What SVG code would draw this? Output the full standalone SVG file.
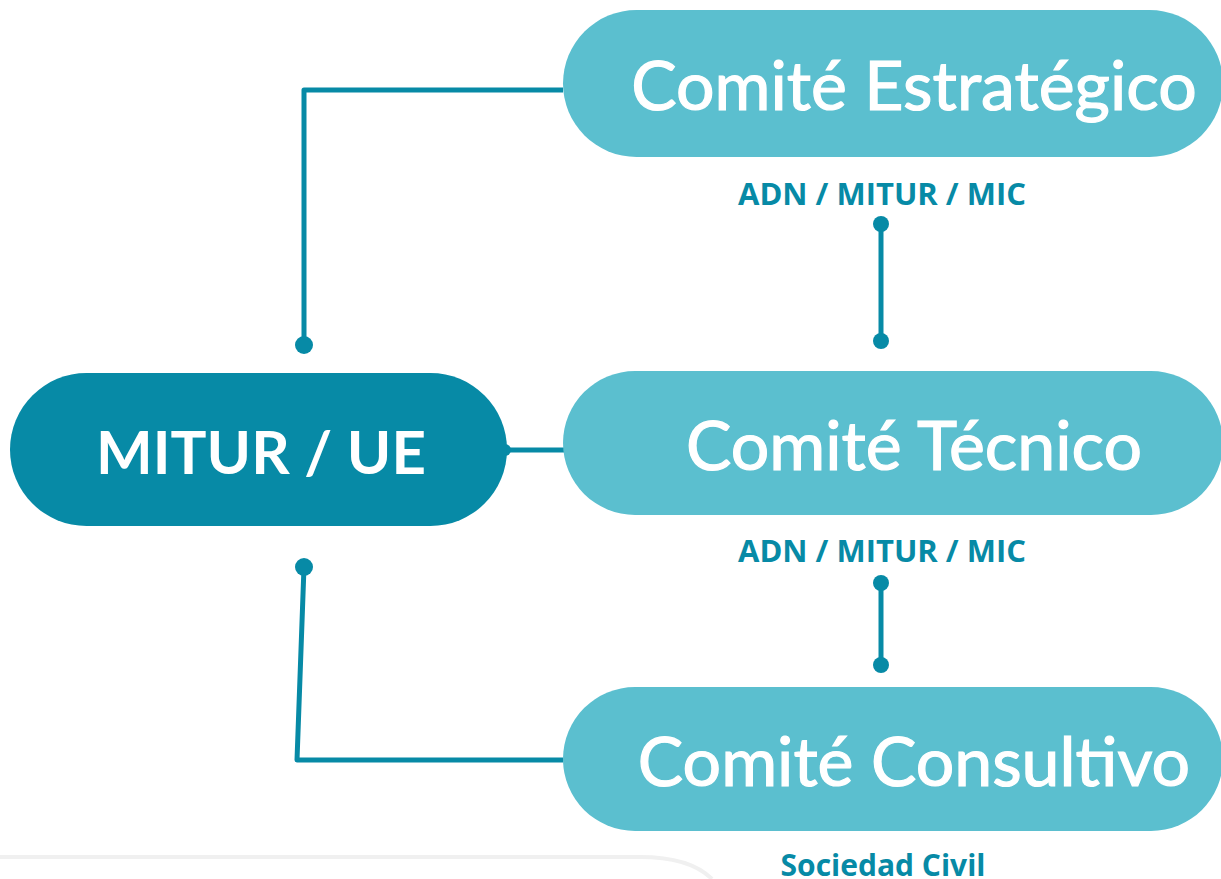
<svg xmlns="http://www.w3.org/2000/svg" width="1221" height="879" viewBox="0 0 1221 879">
<style>
.pill{fill:#5bbfcf}
.main{fill:#078aa6}
.t{font-family:Lato,"Open Sans",sans-serif;fill:#fff;text-anchor:middle}
.m{stroke:#fff;stroke-width:1.2}
.lbl{font-family:"Open Sans",sans-serif;font-weight:700;fill:#078aa6;text-anchor:middle}
.ln{stroke:#078aa6;stroke-width:5;fill:none;stroke-linejoin:round}
.dot{fill:#078aa6}
</style>
<rect width="1221" height="879" fill="#fff"/>
<path d="M0 857 H640 Q690 857 712 879" fill="none" stroke="#f0f0f0" stroke-width="4"/>
<g id="connectors">
<path class="ln" d="M563 90 H304 V345"/>
<circle class="dot" cx="304" cy="345" r="9"/>
<path class="ln" d="M304 567 L297 760 H563"/>
<circle class="dot" cx="304" cy="567" r="9"/>
<path class="ln" d="M505 450 H565"/>
<circle class="dot" cx="505" cy="450" r="6"/>
<path class="ln" d="M881 224 V341"/>
<circle class="dot" cx="881" cy="224" r="8"/>
<circle class="dot" cx="881" cy="341" r="8"/>
<path class="ln" d="M881 583 V665"/>
<circle class="dot" cx="881" cy="583" r="8"/>
<circle class="dot" cx="881" cy="665" r="8"/>
</g>
<g id="estrategico">
<rect class="pill" x="563" y="10" width="660" height="147" rx="73.5"/>
<text class="t m" x="914" y="110" font-size="68">Comité Estratégico</text>
</g>
<g id="label1"><text class="lbl" x="882" y="205" font-size="31">ADN / MITUR / MIC</text></g>
<g id="tecnico">
<rect class="pill" x="563" y="371" width="660" height="144" rx="72"/>
<text class="t m" x="914" y="470" font-size="68">Comité Técnico</text>
</g>
<g id="label2"><text class="lbl" x="882" y="562" font-size="31">ADN / MITUR / MIC</text></g>
<g id="consultivo">
<rect class="pill" x="563" y="687" width="660" height="144" rx="72"/>
<text class="t m" x="914" y="786" font-size="68">Comité Consultivo</text>
</g>
<g id="sociedad"><text class="lbl" x="883" y="876" font-size="30">Sociedad Civil</text></g>
<g id="mitur">
<rect class="main" x="10" y="373" width="497" height="153" rx="76.5"/>
<text class="t" x="261" y="474" font-size="60" font-weight="700">MITUR / UE</text>
</g>
</svg>
